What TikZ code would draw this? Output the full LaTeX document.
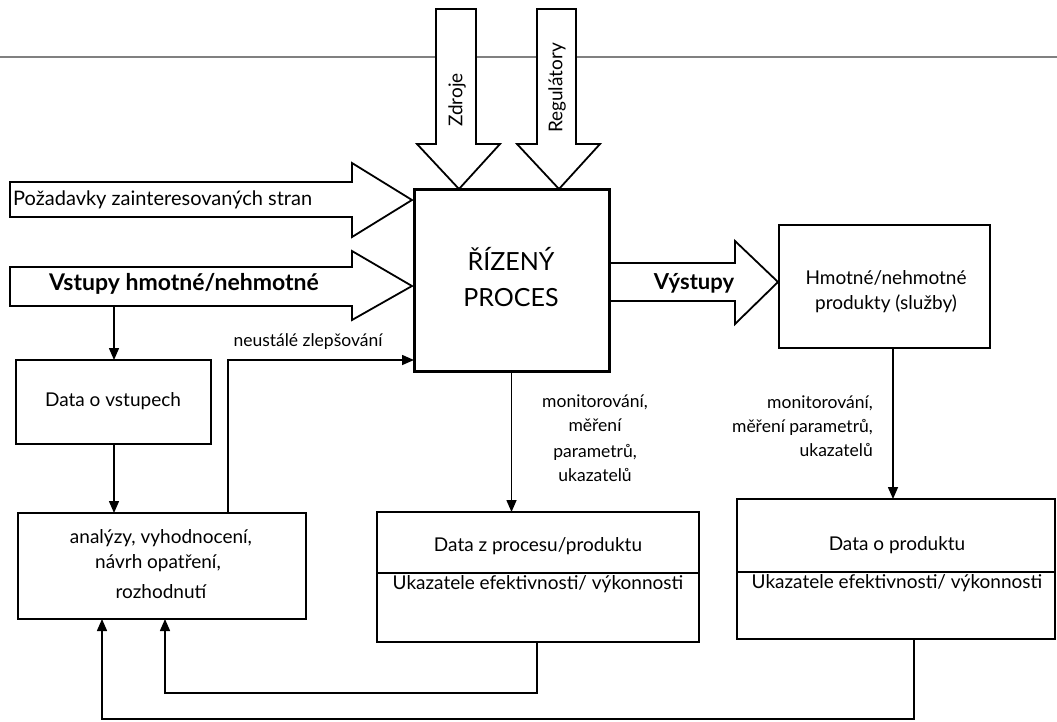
\documentclass[tikz,border=0pt]{standalone}
\usepackage{fontspec}
\setmainfont{Lato}
\usetikzlibrary{arrows.meta}
\begin{document}
\begin{tikzpicture}[x=1pt,y=-1pt,
  frame/.style={draw, line width=2pt, fill=white, inner sep=0pt, outer sep=0pt, anchor=north west},
  blockarrow/.style={draw, line width=1.8pt, fill=white, line join=miter},
  conn/.style={line width=1.5pt, -{Triangle[length=12pt,width=10pt]}},
  txt/.style={font=\fontsize{19}{22}\selectfont, inner sep=0pt},
  smalltxt/.style={font=\fontsize{17.5}{21}\selectfont, inner sep=0pt},
  bigtxt/.style={font=\fontsize{25}{29}\selectfont, inner sep=0pt},
  boldtxt/.style={font=\fontsize{22}{26}\selectfont\bfseries, inner sep=0pt}]
\fill[white] (0,0) rectangle (1057,721);
\useasboundingbox (0,0) rectangle (1057,721);

% page rule behind the top arrows
\draw[gray, line width=1.5pt] (0,57) -- (1057,57);

% block arrows: resources and regulators from above
\draw[blockarrow] (436,9) -- (476,9) -- (476,144) -- (500,144) -- (459,189) -- (417,144) -- (436,144) -- cycle;
\draw[blockarrow] (537,9) -- (576,9) -- (576,144) -- (600,144) -- (559,189) -- (517,144) -- (537,144) -- cycle;
\node[txt, rotate=90] (tzdroje) at (457,100) {Zdroje};
\node[txt, rotate=90] (tregul) at (557,88) {Regulátory};

% block arrows from the left
\draw[blockarrow] (10,182) -- (352,182) -- (352,163) -- (412,200) -- (352,237) -- (352,217) -- (10,217) -- cycle;
\draw[blockarrow] (10,267) -- (352,267) -- (352,251) -- (412,286) -- (352,320) -- (352,306) -- (10,306) -- cycle;
\node[txt, font=\fontsize{20}{24}\selectfont, anchor=west] (tpoz) at (13,200) {Požadavky zainteresovaných stran};
\node[boldtxt, font=\fontsize{23}{27}\selectfont\bfseries] (tvst) at (184,284) {Vstupy hmotné/nehmotné};

% output block arrow
\draw[blockarrow] (609,263) -- (735,263) -- (735,241) -- (778,282) -- (735,324) -- (735,301) -- (609,301) -- cycle;
\node[boldtxt] (tvys) at (694,283) {Výstupy};

% boxes
\node[frame, line width=3pt, minimum width=195pt, minimum height=182pt] (proc) at (414,189) {};
\node[bigtxt] (tproc1) at (511,259) {ŘÍZENÝ};
\node[bigtxt] (tproc2) at (511,298) {PROCES};

\node[frame, minimum width=211pt, minimum height=123pt] (hmo) at (779,225) {};
\node[txt] (thmo1) at (886,278) {Hmotné/nehmotné};
\node[txt] (thmo2) at (886,304) {produkty (služby)};

\node[frame, minimum width=195pt, minimum height=84pt] (din) at (16,360) {};
\node[txt] (tdin) at (113,401) {Data o vstupech};

\node[frame, minimum width=288pt, minimum height=106pt] (ana) at (18,513) {};
\node[txt] (tana1) at (161,538) {analýzy, vyhodnocení,};
\node[txt] (tana2) at (158,563) {návrh opatření,};
\node[txt] (tana3) at (161,592) {rozhodnutí};

\node[frame, minimum width=322pt, minimum height=130pt] (dzp) at (377,512) {};
\draw[line width=2pt] (dzp.west |- 0,573) -- (dzp.east |- 0,573);
\node[txt] (tdzp1) at (538,546) {Data z procesu/produktu};
\node[txt] (tdzp2) at (538,584) {Ukazatele efektivnosti/ výkonnosti};

\node[frame, minimum width=318pt, minimum height=140pt] (dop) at (737,499) {};
\draw[line width=2pt] (dop.west |- 0,572) -- (dop.east |- 0,572);
\node[txt] (tdop1) at (897,545) {Data o produktu};
\node[txt] (tdop2) at (897,583) {Ukazatele efektivnosti/ výkonnosti};

% measurement labels
\node[smalltxt] (tmon1a) at (595,402) {monitorování,};
\node[smalltxt] (tmon1b) at (595,425) {měření};
\node[smalltxt] (tmon1c) at (595,452) {parametrů,};
\node[smalltxt] (tmon1d) at (595,475) {ukazatelů};
\node[smalltxt, anchor=east] (tmon2a) at (873,403) {monitorování,};
\node[smalltxt, anchor=east] (tmon2b) at (873,427) {měření parametrů,};
\node[smalltxt, anchor=east] (tmon2c) at (873,450) {ukazatelů};
\node[smalltxt] (tkaizen) at (308,342) {neustálé zlepšování};

% connectors
\coordinate (vinfoot) at (114,306);
\draw[conn] (vinfoot) -- (vinfoot |- din.north);
\draw[conn] (din.south -| vinfoot) -- (vinfoot |- ana.north);
\coordinate (kaizen) at (228,360);
\draw[conn] (kaizen |- ana.north) -- (kaizen) -- (kaizen -| proc.west);
\draw[conn] (proc.south) -- (proc.south |- dzp.north);
\coordinate (monr) at (893,350);
\draw[conn] (hmo.south -| monr) -- (monr |- dop.north);

% feedback loops into the analysis box
\coordinate (fbA) at (537,693);
\coordinate (fbAx) at (165,0);
\draw[conn] (dzp.south -| fbA) -- (fbA) -| (fbAx |- ana.south);
\coordinate (fbB) at (914,719);
\coordinate (fbBx) at (102,0);
\draw[conn] (dop.south -| fbB) -- (fbB) -| (fbBx |- ana.south);
\end{tikzpicture}
\end{document}
